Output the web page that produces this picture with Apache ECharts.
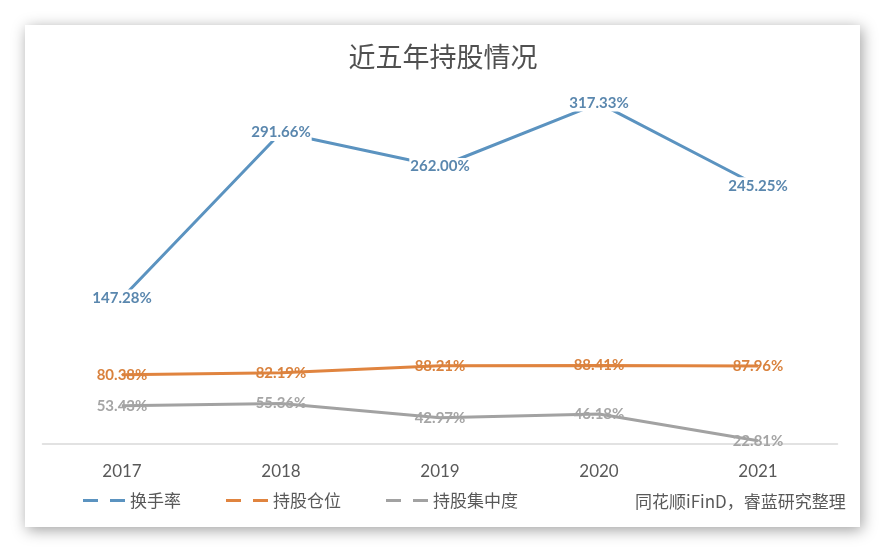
<!DOCTYPE html>
<html>
<head>
<meta charset="utf-8">
<script src="https://cdn.jsdelivr.net/npm/echarts@6/dist/echarts.min.js"></script>
<style>
html,body{margin:0;padding:0;background:#ffffff;}
#chart{width:886px;height:553px;}
</style>
</head>
<body>
<div id="chart"></div>
<script>
const years = ['2017', '2018', '2019', '2020', '2021'];
const turnover = [147.28, 291.66, 262.00, 317.33, 245.25];
const holdingPosition = [80.38, 82.19, 88.21, 88.41, 87.96];
const concentration = [53.43, 55.36, 42.97, 46.18, 22.81];
const seriesNames = ['换手率', '持股仓位', '持股集中度'];
const titleText = '近五年持股情况';
const sourceText = '同花顺iFinD，睿蓝研究整理';

const chart = echarts.init(document.getElementById('chart'), null, {renderer: 'canvas'});
const fmt = p => p.value.toFixed(2) + '%';
const dashIcon = 'path://M0,0H15V3H0Z M27,0H42V3H27Z';

chart.setOption({
  backgroundColor: 'transparent',
  animation: false,
  title: {
    text: titleText,
    left: 'center',
    top: 38,
    textStyle: {fontFamily: 'Noto Sans CJK SC', fontSize: 27, fontWeight: 'normal', color: '#505050'}
  },
  graphic: [
    {
      type: 'rect', z: 0, silent: true,
      shape: {x: 25, y: 25, width: 835, height: 502},
      style: {fill: '#ffffff', shadowBlur: 14, shadowColor: 'rgba(0,0,0,0.38)', shadowOffsetX: 2, shadowOffsetY: 3}
    },
    {
      type: 'text', z: 5, left: 635, top: 493,
      style: {text: sourceText, font: '17px "Noto Sans CJK SC"', fill: '#595959'}
    }
  ],
  legend: {
    left: 83, top: 492, padding: 0,
    itemWidth: 42, itemHeight: 3, itemGap: 45,
    icon: dashIcon,
    textStyle: {fontFamily: 'Noto Sans CJK SC', fontSize: 17, color: '#595959'},
    data: seriesNames
  },
  grid: {left: 42.5, right: 48.5, top: 100, bottom: 109},
  xAxis: {
    type: 'category', data: years, boundaryGap: true, z: 1,
    axisLine: {lineStyle: {color: '#d9d9d9', width: 1.5}},
    axisTick: {show: false},
    axisLabel: {fontFamily: 'Lato', fontSize: 17, color: '#595959', margin: 19}
  },
  yAxis: {
    type: 'value', min: 20, max: 320, show: false,
    splitLine: {show: false}
  },
  series: [
    {
      name: seriesNames[0], type: 'line', data: turnover, z: 3,
      symbol: 'circle', symbolSize: 1,
      itemStyle: {color: '#5b93c0'},
      lineStyle: {color: '#5b93c0', width: 3},
      label: {show: true, position: 'inside', formatter: fmt, fontFamily: 'Lato', fontWeight: 'bold', fontSize: 15,
              color: '#5a87ae', backgroundColor: '#ffffff', padding: [1, 1]}
    },
    {
      name: seriesNames[1], type: 'line', data: holdingPosition, z: 3,
      symbol: 'circle', symbolSize: 1,
      itemStyle: {color: '#e0843f'},
      lineStyle: {color: '#e0843f', width: 3},
      label: {show: true, position: 'inside', formatter: fmt, fontFamily: 'Lato', fontWeight: 'bold', fontSize: 15,
              color: '#d9823e'}
    },
    {
      name: seriesNames[2], type: 'line', data: concentration, z: 3,
      symbol: 'circle', symbolSize: 1,
      itemStyle: {color: '#a2a2a2'},
      lineStyle: {color: '#a2a2a2', width: 3},
      label: {show: true, position: 'inside', formatter: fmt, fontFamily: 'Lato', fontWeight: 'bold', fontSize: 15,
              color: '#a5a5a5'}
    }
  ]
});
</script>
</body>
</html>
